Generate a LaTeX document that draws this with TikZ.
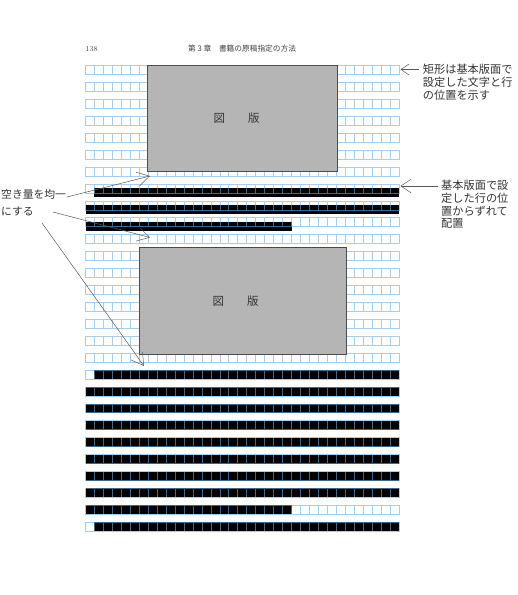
\documentclass[tikz,border=0pt]{standalone}
\usepackage{fontspec}
\newfontfamily\jp{Noto Sans CJK JP}
\usetikzlibrary{arrows.meta,positioning}
\definecolor{gridblue}{rgb}{0.41,0.68,0.89}
\def\cw{8.96}
\def\lp{16.91}
\def\xo{85.5}
\def\yo{65.7}

\begin{document}
\begin{tikzpicture}
  [x=1pt,y=-1pt,
   gridline/.style={draw=gridblue,draw opacity=0.6,line width=0.8pt},
   textline/.style={fill=black},
   figbox/.style={draw=black!70,line width=1pt,fill=black!29,inner sep=0pt},
   note/.style={font=\jp\fontsize{11.2}{12.9}\selectfont,text=black!80,align=left,inner sep=0pt,anchor=north west},
   leader/.style={draw=black!65,line width=0.5pt,-{Straight Barb[length=12pt,width=14pt]}},
   pointer/.style={draw=black!65,line width=0.5pt,-{Straight Barb[length=8pt,width=11pt]}}]
  \useasboundingbox (0,0) rectangle (518,595);

  % text lines
  \foreach \k/\a/\b/\d in {7/1/35/4,8/0/35/4,9/0/23/4,18/1/35/0,19/0/35/0,20/0/35/0,
      21/0/35/0,22/0/35/0,23/0/35/0,24/0/35/0,25/0/35/0,26/0/23/0,27/1/35/0}
    \fill[textline] (\xo+\a*\cw,\yo+\k*\lp+\d) rectangle (\xo+\b*\cw,\yo+\k*\lp+\d+\cw);

  % base grid
  \foreach \k in {0,...,27}
    \draw[gridline] (\xo,\yo+\k*\lp) rectangle ++(35*\cw,\cw)
      foreach \i in {1,...,34} {(\xo+\i*\cw,\yo+\k*\lp) -- ++(0,\cw)};

  % figures
  \node[figbox,minimum width=189.6pt,minimum height=105.3pt,
    label={[xshift=-6pt,font=\jp\fontsize{11.5}{12}\selectfont,text=black!80]center:図　　版}]
    (fig1) at (242.5,118.35) {};
  \node[figbox,minimum width=206.7pt,minimum height=107pt,
    label={[xshift=-7pt,font=\jp\fontsize{11.5}{12}\selectfont,text=black!80]center:図　　版}]
    (fig2) at (242.65,300.8) {};

  % header
  \node[anchor=west,inner sep=0pt,font=\fontsize{7.5}{8}\selectfont,text=black!75] (page) at (85.5,49) {138};
  \node[anchor=west,inner sep=0pt,font=\jp\fontsize{7.7}{8}\selectfont,text=black!75] (chap) at (188,49)
    {第 3 章　書籍の原稿指定の方法};

  % notes
  \node[note] (rect) at (422.7,64) {矩形は基本版面で\\設定した文字と行\\の位置を示す};
  \node[note] (shift) at (441,179.6) {基本版面で設\\定した行の位\\置からずれて\\配置};
  \node[note,font=\jp\fontsize{10.8}{16.5}\selectfont] (even) at (1,189.5) {空き量を均一\\にする};

  \coordinate (r1) at (418.5,69.5);  \coordinate (p1) at (400.5,69.5);
  \coordinate (r2) at (438,186);     \coordinate (p2) at (400.5,186);
  \coordinate (e1) at (67,197);      \coordinate (t1) at (150,176);
  \coordinate (e2) at (53,212);      \coordinate (t2) at (150,237.5);
  \coordinate (e3) at (42,223);      \coordinate (t3) at (144,366);

  \draw[pointer] (r1) -- (p1);
  \draw[pointer,-{Straight Barb[length=10pt,width=13.5pt]}] (r2) -- (p2);
  \foreach \from/\to in {e1/t1,e2/t2,e3/t3}
    \draw[leader] (\from) -- (\to);
\end{tikzpicture}
\end{document}
